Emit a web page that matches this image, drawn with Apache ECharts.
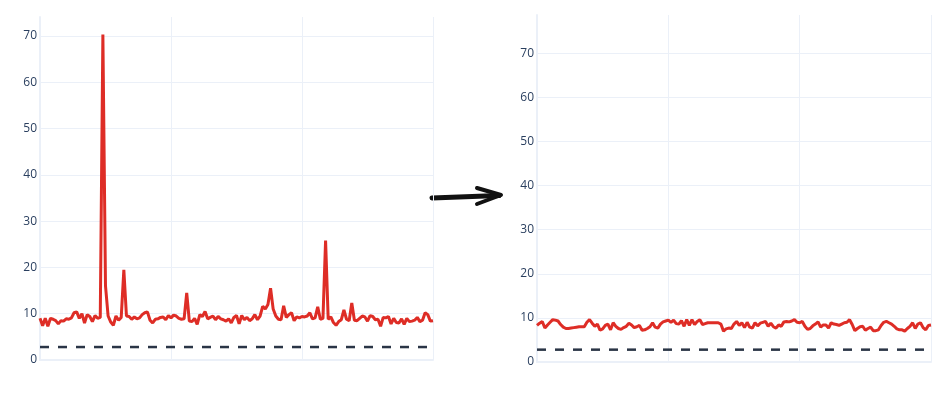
<!DOCTYPE html>
<html>
<head>
<meta charset="utf-8">
<script src="https://cdn.jsdelivr.net/npm/echarts@6/dist/echarts.min.js"></script>
<style>
  html, body { margin: 0; padding: 0; background: #fff; }
  #chart { width: 941px; height: 395px; }
</style>
</head>
<body>
<div id="chart"></div>
<script>
// 左图：原始序列（有尖峰）
const beforeValues = [
    9.0, 7.4, 9.0, 7.3, 9.0, 8.8, 8.5, 7.8, 8.5, 8.4,
    8.9, 8.8, 9.1, 10.2, 10.4, 9.0, 10.0, 8.0, 9.8, 9.4,
    8.3, 9.6, 9.0, 9.2, 70.3, 16.0, 9.5, 8.2, 7.5, 9.5,
    8.6, 9.2, 19.5, 9.5, 9.4, 8.8, 9.3, 8.9, 9.1, 9.8,
    10.2, 10.4, 8.6, 8.0, 8.8, 8.9, 9.2, 9.3, 8.7, 9.6,
    9.1, 9.7, 9.5, 9.0, 8.8, 8.9, 14.5, 8.4, 8.3, 9.0,
    7.7, 9.8, 9.4, 10.5, 8.9, 9.2, 9.5, 8.7, 9.4, 8.9,
    8.7, 8.4, 8.9, 8.0, 9.2, 9.6, 7.8, 9.6, 8.7, 9.2,
    8.5, 8.9, 9.8, 8.7, 9.5, 11.6, 11.0, 12.0, 15.5, 11.0,
    9.5, 8.8, 8.7, 11.7, 9.2, 9.8, 10.2, 8.5, 9.3, 9.1,
    9.4, 9.3, 9.5, 10.2, 8.9, 9.1, 11.5, 8.8, 9.0, 25.8,
    8.8, 9.3, 8.1, 7.5, 8.3, 8.7, 10.8, 8.8, 8.5, 12.3,
    8.6, 8.5, 9.0, 9.5, 9.3, 8.4, 9.6, 9.4, 8.7, 8.8,
    7.3, 9.2, 9.1, 9.4, 7.8, 9.0, 8.1, 8.0, 8.9, 7.7,
    9.0, 8.3, 8.4, 8.6, 9.2, 8.3, 8.6, 10.2, 9.8, 8.4,
    8.5
];

// 右图：处理后的序列
const afterValues = [
    8.3, 8.8, 9.2, 7.7, 8.4, 9.0, 9.6, 9.5, 9.3, 8.5,
    7.9, 7.6, 7.6, 7.7, 7.8, 7.9, 8.0, 8.0, 8.0, 9.0,
    9.6, 8.8, 8.1, 8.6, 7.2, 7.5, 8.3, 8.6, 7.3, 8.9,
    8.1, 7.6, 7.4, 7.8, 8.1, 8.8, 8.4, 7.8, 8.0, 8.3,
    7.2, 7.3, 7.6, 8.0, 8.9, 7.9, 7.7, 8.6, 9.1, 9.3,
    9.5, 9.0, 9.5, 8.7, 8.6, 9.4, 8.1, 9.6, 8.3, 9.6,
    8.5, 9.2, 9.6, 8.5, 8.7, 8.9, 8.9, 8.9, 8.9, 8.9,
    8.6, 7.0, 7.5, 7.7, 7.6, 8.6, 9.2, 8.3, 8.9, 7.8,
    9.0, 7.9, 7.7, 8.9, 8.2, 8.8, 9.0, 9.2, 8.1, 8.8,
    8.0, 7.7, 8.4, 8.1, 9.1, 9.2, 9.1, 9.3, 9.6, 9.0,
    8.9, 9.2, 8.1, 7.4, 7.6, 8.2, 8.6, 9.1, 7.9, 8.4,
    8.4, 7.7, 8.9, 8.6, 8.5, 8.3, 8.6, 8.9, 9.0, 9.6,
    8.5, 7.1, 7.6, 8.0, 8.1, 7.2, 7.6, 7.9, 7.1, 7.1,
    7.3, 8.3, 9.0, 9.2, 8.9, 8.6, 8.1, 7.5, 7.3, 7.3,
    7.0, 7.6, 8.1, 8.9, 7.6, 8.6, 8.9, 7.8, 7.3, 8.3,
    8.4
];

// 阈值（虚线）
const thresholdBefore = 2.8;
const thresholdAfter = 2.8;

// y 轴刻度
const yTicks = [0, 10, 20, 30, 40, 50, 60, 70];

const gridColor = '#EBF0F8';
const textColor = '#2a3f5f';
const lineColor = '#de2d26';

function toPairs(values) {
    return values.map(function(v, i) { return [i, v]; });
}

function makeXAxis(gridIndex, n) {
    return {
        type: 'value',
        gridIndex: gridIndex,
        min: 0,
        max: n - 1,
        interval: 50,
        axisLabel: { show: false },
        axisTick: { show: false },
        axisLine: { show: true, onZero: true, lineStyle: { color: gridColor, width: 2 } },
        splitLine: { show: true, lineStyle: { color: gridColor, width: 1 } }
    };
}

function makeYAxis(gridIndex, max) {
    return {
        type: 'value',
        gridIndex: gridIndex,
        min: yTicks[0],
        max: max,
        interval: 10,
        axisLine: { show: true, lineStyle: { color: gridColor, width: 2 } },
        axisTick: { show: false },
        axisLabel: {
            color: textColor,
            fontFamily: 'Open Sans',
            fontSize: 12,
            margin: 3,
            showMaxLabel: false,
            formatter: function(v) { return yTicks.indexOf(v) >= 0 ? String(v) : ''; }
        },
        splitLine: {
            show: true,
            showMinLine: false,
            showMaxLine: false,
            lineStyle: { color: gridColor, width: 1 }
        }
    };
}

const chart = echarts.init(document.getElementById('chart'));

const nB = beforeValues.length;
const nA = afterValues.length;

chart.setOption({
    animation: false,
    grid: [
        { left: 40, right: 508, top: 17, bottom: 35 },
        { left: 537, right: 10, top: 15, bottom: 33 }
    ],
    xAxis: [makeXAxis(0, nB), makeXAxis(1, nA)],
    yAxis: [makeYAxis(0, 74.1), makeYAxis(1, 78.7)],
    series: [
        {
            type: 'line',
            xAxisIndex: 0, yAxisIndex: 0,
            data: [[0, thresholdBefore], [nB - 1, thresholdBefore]],
            symbol: 'none',
            lineStyle: { color: '#2a3546', width: 2.5, type: [9, 9] },
            z: 2
        },
        {
            type: 'line',
            xAxisIndex: 0, yAxisIndex: 0,
            data: toPairs(beforeValues),
            symbol: 'none',
            lineStyle: { color: lineColor, width: 3 },
            z: 3
        },
        {
            type: 'line',
            xAxisIndex: 1, yAxisIndex: 1,
            data: [[0, thresholdAfter], [nA - 1, thresholdAfter]],
            symbol: 'none',
            lineStyle: { color: '#2a3546', width: 2.5, type: [9, 9] },
            z: 2
        },
        {
            type: 'line',
            xAxisIndex: 1, yAxisIndex: 1,
            data: toPairs(afterValues),
            symbol: 'none',
            lineStyle: { color: lineColor, width: 3 },
            z: 3
        }
    ],
    // 中间的箭头
    graphic: [
        {
            type: 'polyline',
            shape: { points: [[432, 198], [499, 195.5]] },
            style: { stroke: '#111', lineWidth: 5, lineCap: 'round', fill: null }
        },
        {
            type: 'polyline',
            shape: { points: [[477, 188], [501, 195], [477, 204]] },
            style: { stroke: '#111', lineWidth: 4, lineCap: 'round', lineJoin: 'round', fill: null }
        }
    ]
});

window.addEventListener('resize', function() {
    chart.resize();
});
</script>
</body>
</html>
